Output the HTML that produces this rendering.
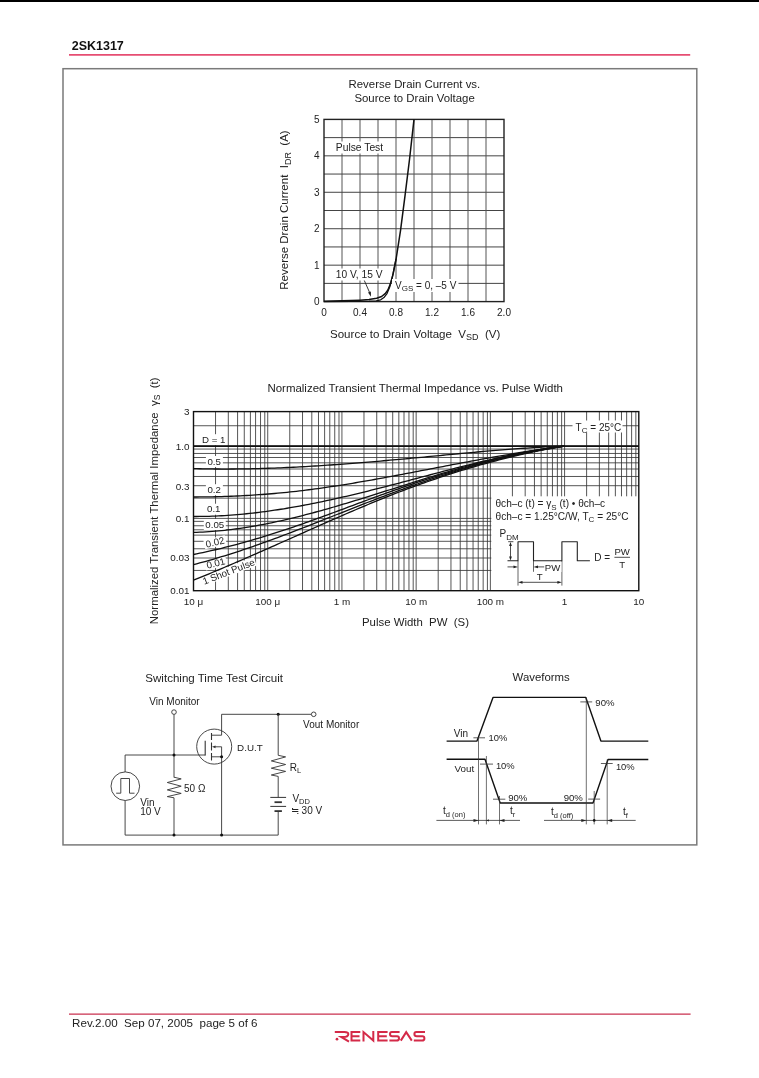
<!DOCTYPE html>
<html><head><meta charset="utf-8"><style>
html,body{margin:0;padding:0;background:#fff;width:759px;height:1078px;overflow:hidden}
svg{display:block;font-family:"Liberation Sans", sans-serif;filter:blur(0.3px)}
</style></head><body>
<svg width="759" height="1078" viewBox="0 0 759 1078">
<rect x="0.00" y="0.00" width="759.00" height="2.00" fill="#000" stroke="none" stroke-width="0"/>
<text x="71.70" y="50.20" font-size="12.5" text-anchor="start" fill="#111" font-weight="bold">2SK1317</text>
<line x1="69.00" y1="54.85" x2="690.20" y2="54.85" stroke="#e64d72" stroke-width="1.8" />
<rect x="63" y="68.7" width="633.8" height="776.2" fill="none" stroke="#7a7a7a" stroke-width="1.5"/>
<text x="414.40" y="87.90" font-size="11.4" text-anchor="middle" fill="#222" >Reverse Drain Current vs.</text>
<text x="414.60" y="102.00" font-size="11.4" text-anchor="middle" fill="#222" >Source to Drain Voltage</text>
<line x1="342.00" y1="119.40" x2="342.00" y2="301.60" stroke="#555" stroke-width="1" />
<line x1="324.00" y1="137.62" x2="504.00" y2="137.62" stroke="#444" stroke-width="1" />
<line x1="360.00" y1="119.40" x2="360.00" y2="301.60" stroke="#555" stroke-width="1" />
<line x1="324.00" y1="155.84" x2="504.00" y2="155.84" stroke="#444" stroke-width="1" />
<line x1="378.00" y1="119.40" x2="378.00" y2="301.60" stroke="#555" stroke-width="1" />
<line x1="324.00" y1="174.06" x2="504.00" y2="174.06" stroke="#444" stroke-width="1" />
<line x1="396.00" y1="119.40" x2="396.00" y2="301.60" stroke="#555" stroke-width="1" />
<line x1="324.00" y1="192.28" x2="504.00" y2="192.28" stroke="#444" stroke-width="1" />
<line x1="414.00" y1="119.40" x2="414.00" y2="301.60" stroke="#555" stroke-width="1" />
<line x1="324.00" y1="210.50" x2="504.00" y2="210.50" stroke="#444" stroke-width="1" />
<line x1="432.00" y1="119.40" x2="432.00" y2="301.60" stroke="#555" stroke-width="1" />
<line x1="324.00" y1="228.72" x2="504.00" y2="228.72" stroke="#444" stroke-width="1" />
<line x1="450.00" y1="119.40" x2="450.00" y2="301.60" stroke="#555" stroke-width="1" />
<line x1="324.00" y1="246.94" x2="504.00" y2="246.94" stroke="#444" stroke-width="1" />
<line x1="468.00" y1="119.40" x2="468.00" y2="301.60" stroke="#555" stroke-width="1" />
<line x1="324.00" y1="265.16" x2="504.00" y2="265.16" stroke="#444" stroke-width="1" />
<line x1="486.00" y1="119.40" x2="486.00" y2="301.60" stroke="#555" stroke-width="1" />
<line x1="324.00" y1="283.38" x2="504.00" y2="283.38" stroke="#444" stroke-width="1" />
<rect x="324.0" y="119.4" width="180.0" height="182.20000000000002" fill="none" stroke="#222" stroke-width="1.4"/>
<text x="319.60" y="305.20" font-size="10.0" text-anchor="end" fill="#222" >0</text>
<text x="319.60" y="268.76" font-size="10.0" text-anchor="end" fill="#222" >1</text>
<text x="319.60" y="232.32" font-size="10.0" text-anchor="end" fill="#222" >2</text>
<text x="319.60" y="195.88" font-size="10.0" text-anchor="end" fill="#222" >3</text>
<text x="319.60" y="159.44" font-size="10.0" text-anchor="end" fill="#222" >4</text>
<text x="319.60" y="123.00" font-size="10.0" text-anchor="end" fill="#222" >5</text>
<text x="324.00" y="316.00" font-size="10.0" text-anchor="middle" fill="#222" >0</text>
<text x="360.00" y="316.00" font-size="10.0" text-anchor="middle" fill="#222" >0.4</text>
<text x="396.00" y="316.00" font-size="10.0" text-anchor="middle" fill="#222" >0.8</text>
<text x="432.00" y="316.00" font-size="10.0" text-anchor="middle" fill="#222" >1.2</text>
<text x="468.00" y="316.00" font-size="10.0" text-anchor="middle" fill="#222" >1.6</text>
<text x="504.00" y="316.00" font-size="10.0" text-anchor="middle" fill="#222" >2.0</text>
<text x="330" y="337.6" font-size="11.55" fill="#222">Source to Drain Voltage&#160; V<tspan font-size="9" dy="2.6">SD</tspan><tspan dy="-2.6">&#160; (V)</tspan></text>
<text transform="translate(288,289.7) rotate(-90)" x="0" y="0" font-size="11.5" fill="#222">Reverse Drain Current&#160; I<tspan font-size="9" dy="2.6">DR</tspan><tspan dy="-2.6">&#160; (A)</tspan></text>
<polyline points="324.00,301.24 342.00,300.87 360.00,300.14 369.00,299.60 376.65,298.32 381.60,296.50 385.20,293.58 387.90,289.94 390.60,283.38 393.30,273.18 396.00,259.69 400.50,230.54 405.00,195.92 409.50,159.48 414.00,119.40" fill="none" stroke="#111" stroke-width="1.5" stroke-linejoin="round" />
<polyline points="324.00,301.60 351.00,301.42 369.00,301.24 376.20,300.87 380.70,299.78 384.30,297.23 387.00,293.58 389.70,287.02 392.40,276.82 395.10,263.34 396.00,258.97" fill="none" stroke="#111" stroke-width="1.3" stroke-linejoin="round" />
<rect x="333.50" y="141.50" width="51.00" height="12.00" fill="#fff" stroke="none" stroke-width="0"/>
<text x="335.80" y="150.80" font-size="10.3" text-anchor="start" fill="#222" >Pulse Test</text>
<rect x="333.50" y="268.50" width="51.00" height="12.00" fill="#fff" stroke="none" stroke-width="0"/>
<text x="335.80" y="278.10" font-size="10.2" text-anchor="start" fill="#222" >10 V, 15 V</text>
<line x1="364.30" y1="280.50" x2="369.60" y2="292.50" stroke="#222" stroke-width="0.9" />
<polygon points="371.00,296.80 368.03,292.51 370.88,291.58" fill="#222"/>
<rect x="392.00" y="279.00" width="66.50" height="13.00" fill="#fff" stroke="none" stroke-width="0"/>
<text x="395" y="288.8" font-size="10" fill="#222">V<tspan font-size="8" dy="2.5">GS</tspan><tspan dy="-2.5"> = 0, –5 V</tspan></text>
<text x="415.20" y="392.20" font-size="11.48" text-anchor="middle" fill="#222" >Normalized Transient Thermal Impedance vs. Pulse Width</text>
<line x1="215.54" y1="411.60" x2="215.54" y2="590.70" stroke="#383838" stroke-width="0.85" />
<line x1="228.31" y1="411.60" x2="228.31" y2="590.70" stroke="#383838" stroke-width="0.85" />
<line x1="237.58" y1="411.60" x2="237.58" y2="590.70" stroke="#383838" stroke-width="0.85" />
<line x1="244.28" y1="411.60" x2="244.28" y2="590.70" stroke="#383838" stroke-width="0.85" />
<line x1="250.40" y1="411.60" x2="250.40" y2="590.70" stroke="#383838" stroke-width="0.85" />
<line x1="255.57" y1="411.60" x2="255.57" y2="590.70" stroke="#383838" stroke-width="0.85" />
<line x1="260.52" y1="411.60" x2="260.52" y2="590.70" stroke="#383838" stroke-width="0.85" />
<line x1="264.77" y1="411.60" x2="264.77" y2="590.70" stroke="#383838" stroke-width="0.85" />
<line x1="289.76" y1="411.60" x2="289.76" y2="590.70" stroke="#383838" stroke-width="0.85" />
<line x1="302.53" y1="411.60" x2="302.53" y2="590.70" stroke="#383838" stroke-width="0.85" />
<line x1="311.80" y1="411.60" x2="311.80" y2="590.70" stroke="#383838" stroke-width="0.85" />
<line x1="318.49" y1="411.60" x2="318.49" y2="590.70" stroke="#383838" stroke-width="0.85" />
<line x1="324.62" y1="411.60" x2="324.62" y2="590.70" stroke="#383838" stroke-width="0.85" />
<line x1="329.79" y1="411.60" x2="329.79" y2="590.70" stroke="#383838" stroke-width="0.85" />
<line x1="334.74" y1="411.60" x2="334.74" y2="590.70" stroke="#383838" stroke-width="0.85" />
<line x1="338.99" y1="411.60" x2="338.99" y2="590.70" stroke="#383838" stroke-width="0.85" />
<line x1="267.72" y1="411.60" x2="267.72" y2="590.70" stroke="#383838" stroke-width="0.85" />
<line x1="363.97" y1="411.60" x2="363.97" y2="590.70" stroke="#383838" stroke-width="0.85" />
<line x1="376.74" y1="411.60" x2="376.74" y2="590.70" stroke="#383838" stroke-width="0.85" />
<line x1="386.02" y1="411.60" x2="386.02" y2="590.70" stroke="#383838" stroke-width="0.85" />
<line x1="392.71" y1="411.60" x2="392.71" y2="590.70" stroke="#383838" stroke-width="0.85" />
<line x1="398.84" y1="411.60" x2="398.84" y2="590.70" stroke="#383838" stroke-width="0.85" />
<line x1="404.00" y1="411.60" x2="404.00" y2="590.70" stroke="#383838" stroke-width="0.85" />
<line x1="408.96" y1="411.60" x2="408.96" y2="590.70" stroke="#383838" stroke-width="0.85" />
<line x1="413.20" y1="411.60" x2="413.20" y2="590.70" stroke="#383838" stroke-width="0.85" />
<line x1="341.93" y1="411.60" x2="341.93" y2="590.70" stroke="#383838" stroke-width="0.85" />
<line x1="438.19" y1="411.60" x2="438.19" y2="590.70" stroke="#383838" stroke-width="0.85" />
<line x1="450.96" y1="411.60" x2="450.96" y2="590.70" stroke="#383838" stroke-width="0.85" />
<line x1="460.23" y1="411.60" x2="460.23" y2="590.70" stroke="#383838" stroke-width="0.85" />
<line x1="466.93" y1="411.60" x2="466.93" y2="590.70" stroke="#383838" stroke-width="0.85" />
<line x1="473.05" y1="411.60" x2="473.05" y2="590.70" stroke="#383838" stroke-width="0.85" />
<line x1="478.22" y1="411.60" x2="478.22" y2="590.70" stroke="#383838" stroke-width="0.85" />
<line x1="483.17" y1="411.60" x2="483.17" y2="590.70" stroke="#383838" stroke-width="0.85" />
<line x1="487.42" y1="411.60" x2="487.42" y2="590.70" stroke="#383838" stroke-width="0.85" />
<line x1="416.15" y1="411.60" x2="416.15" y2="590.70" stroke="#383838" stroke-width="0.85" />
<line x1="512.41" y1="411.60" x2="512.41" y2="590.70" stroke="#383838" stroke-width="0.85" />
<line x1="525.18" y1="411.60" x2="525.18" y2="590.70" stroke="#383838" stroke-width="0.85" />
<line x1="534.45" y1="411.60" x2="534.45" y2="590.70" stroke="#383838" stroke-width="0.85" />
<line x1="541.14" y1="411.60" x2="541.14" y2="590.70" stroke="#383838" stroke-width="0.85" />
<line x1="547.27" y1="411.60" x2="547.27" y2="590.70" stroke="#383838" stroke-width="0.85" />
<line x1="552.44" y1="411.60" x2="552.44" y2="590.70" stroke="#383838" stroke-width="0.85" />
<line x1="557.39" y1="411.60" x2="557.39" y2="590.70" stroke="#383838" stroke-width="0.85" />
<line x1="561.64" y1="411.60" x2="561.64" y2="590.70" stroke="#383838" stroke-width="0.85" />
<line x1="490.37" y1="411.60" x2="490.37" y2="590.70" stroke="#383838" stroke-width="0.85" />
<line x1="586.62" y1="411.60" x2="586.62" y2="590.70" stroke="#383838" stroke-width="0.85" />
<line x1="599.39" y1="411.60" x2="599.39" y2="590.70" stroke="#383838" stroke-width="0.85" />
<line x1="608.67" y1="411.60" x2="608.67" y2="590.70" stroke="#383838" stroke-width="0.85" />
<line x1="615.36" y1="411.60" x2="615.36" y2="590.70" stroke="#383838" stroke-width="0.85" />
<line x1="621.49" y1="411.60" x2="621.49" y2="590.70" stroke="#383838" stroke-width="0.85" />
<line x1="626.65" y1="411.60" x2="626.65" y2="590.70" stroke="#383838" stroke-width="0.85" />
<line x1="631.61" y1="411.60" x2="631.61" y2="590.70" stroke="#383838" stroke-width="0.85" />
<line x1="635.85" y1="411.60" x2="635.85" y2="590.70" stroke="#383838" stroke-width="0.85" />
<line x1="564.58" y1="411.60" x2="564.58" y2="590.70" stroke="#383838" stroke-width="0.85" />
<line x1="193.50" y1="570.44" x2="638.80" y2="570.44" stroke="#383838" stroke-width="0.85" />
<line x1="193.50" y1="558.00" x2="638.80" y2="558.00" stroke="#383838" stroke-width="0.85" />
<line x1="193.50" y1="548.77" x2="638.80" y2="548.77" stroke="#383838" stroke-width="0.85" />
<line x1="193.50" y1="541.31" x2="638.80" y2="541.31" stroke="#383838" stroke-width="0.85" />
<line x1="193.50" y1="535.14" x2="638.80" y2="535.14" stroke="#383838" stroke-width="0.85" />
<line x1="193.50" y1="529.80" x2="638.80" y2="529.80" stroke="#383838" stroke-width="0.85" />
<line x1="193.50" y1="525.76" x2="638.80" y2="525.76" stroke="#383838" stroke-width="0.85" />
<line x1="193.50" y1="521.36" x2="638.80" y2="521.36" stroke="#383838" stroke-width="0.85" />
<line x1="193.50" y1="518.40" x2="638.80" y2="518.40" stroke="#383838" stroke-width="0.85" />
<line x1="193.50" y1="498.14" x2="638.80" y2="498.14" stroke="#383838" stroke-width="0.85" />
<line x1="193.50" y1="485.70" x2="638.80" y2="485.70" stroke="#383838" stroke-width="0.85" />
<line x1="193.50" y1="476.47" x2="638.80" y2="476.47" stroke="#383838" stroke-width="0.85" />
<line x1="193.50" y1="469.01" x2="638.80" y2="469.01" stroke="#383838" stroke-width="0.85" />
<line x1="193.50" y1="462.84" x2="638.80" y2="462.84" stroke="#383838" stroke-width="0.85" />
<line x1="193.50" y1="457.50" x2="638.80" y2="457.50" stroke="#383838" stroke-width="0.85" />
<line x1="193.50" y1="453.46" x2="638.80" y2="453.46" stroke="#383838" stroke-width="0.85" />
<line x1="193.50" y1="449.06" x2="638.80" y2="449.06" stroke="#383838" stroke-width="0.85" />
<line x1="193.50" y1="446.10" x2="638.80" y2="446.10" stroke="#383838" stroke-width="0.85" />
<line x1="193.50" y1="425.74" x2="638.80" y2="425.74" stroke="#383838" stroke-width="0.85" />
<rect x="491.30" y="496.30" width="147.50" height="94.40" fill="#fff" stroke="none" stroke-width="0"/>
<rect x="193.5" y="411.60" width="445.30" height="179.10" fill="none" stroke="#111" stroke-width="1.4"/>
<text x="189.40" y="414.90" font-size="9.9" text-anchor="end" fill="#222" >3</text>
<text x="189.40" y="449.90" font-size="9.9" text-anchor="end" fill="#222" >1.0</text>
<text x="189.40" y="490.10" font-size="9.9" text-anchor="end" fill="#222" >0.3</text>
<text x="189.40" y="521.50" font-size="9.9" text-anchor="end" fill="#222" >0.1</text>
<text x="189.40" y="560.50" font-size="9.9" text-anchor="end" fill="#222" >0.03</text>
<text x="189.40" y="593.70" font-size="9.9" text-anchor="end" fill="#222" >0.01</text>
<text x="193.50" y="604.70" font-size="9.9" text-anchor="middle" fill="#222" >10 μ</text>
<text x="267.72" y="604.70" font-size="9.9" text-anchor="middle" fill="#222" >100 μ</text>
<text x="341.93" y="604.70" font-size="9.9" text-anchor="middle" fill="#222" >1 m</text>
<text x="416.15" y="604.70" font-size="9.9" text-anchor="middle" fill="#222" >10 m</text>
<text x="490.37" y="604.70" font-size="9.9" text-anchor="middle" fill="#222" >100 m</text>
<text x="564.58" y="604.70" font-size="9.9" text-anchor="middle" fill="#222" >1</text>
<text x="638.80" y="604.70" font-size="9.9" text-anchor="middle" fill="#222" >10</text>
<text x="362" y="625.6" font-size="11.4" fill="#222">Pulse Width&#160; PW&#160; (S)</text>
<text transform="translate(158,624.2) rotate(-90)" x="0" y="0" font-size="11.4" fill="#222">Normalized Transient Thermal Impedance&#160; γ<tspan font-size="8.5" dy="2.2">S</tspan><tspan dy="-2.2">&#160; (t)</tspan></text>
<rect x="200.50" y="434.20" width="26.50" height="11.00" fill="#fff" stroke="none" stroke-width="0"/>
<rect x="205.90" y="456.00" width="17.00" height="11.00" fill="#fff" stroke="none" stroke-width="0"/>
<rect x="205.90" y="484.20" width="17.00" height="11.00" fill="#fff" stroke="none" stroke-width="0"/>
<rect x="205.50" y="503.70" width="17.00" height="11.00" fill="#fff" stroke="none" stroke-width="0"/>
<rect x="203.80" y="519.00" width="22.00" height="11.00" fill="#fff" stroke="none" stroke-width="0"/>
<g transform="translate(215,542.2) rotate(-13)"><rect x="-11.0" y="-4.6" width="22" height="9.2" fill="#fff"/></g>
<g transform="translate(215.7,563.2) rotate(-14.5)"><rect x="-11.0" y="-4.6" width="22" height="9.2" fill="#fff"/></g>
<g transform="translate(228.6,571.6) rotate(-21.3)"><rect x="-28.5" y="-4.6" width="57" height="9.2" fill="#fff"/></g>
<line x1="193.50" y1="446.10" x2="638.80" y2="446.10" stroke="#111" stroke-width="1.6" />
<polyline points="193.50,468.59 196.62,468.68 199.74,468.75 202.85,468.82 205.97,468.88 209.09,468.92 212.21,468.96 215.32,468.99 218.44,469.01 221.56,469.03 224.68,469.03 227.79,469.03 230.91,469.02 234.03,469.00 237.15,468.97 240.26,468.93 243.38,468.89 246.50,468.84 249.62,468.78 252.74,468.71 255.85,468.64 258.97,468.56 262.09,468.47 265.21,468.37 268.32,468.27 271.44,468.16 274.56,468.05 277.68,467.93 280.79,467.80 283.91,467.66 287.03,467.52 290.15,467.38 293.26,467.23 296.38,467.07 299.50,466.90 302.62,466.73 305.74,466.56 308.85,466.38 311.97,466.19 315.09,466.00 318.21,465.81 321.32,465.61 324.44,465.40 327.56,465.19 330.68,464.98 333.79,464.76 336.91,464.54 340.03,464.31 343.15,464.08 346.26,463.84 349.38,463.60 352.50,463.36 355.62,463.12 358.74,462.87 361.85,462.61 364.97,462.36 368.09,462.10 371.21,461.84 374.32,461.57 377.44,461.30 380.56,461.03 383.68,460.76 386.79,460.48 389.91,460.20 393.03,459.92 396.15,459.64 399.26,459.36 402.38,459.07 405.50,458.78 408.62,458.49 411.74,458.20 414.85,457.91 417.97,457.62 421.09,457.32 424.21,457.03 427.32,456.73 430.44,456.43 433.56,456.13 436.68,455.83 439.79,455.54 442.91,455.24 446.03,454.94 449.15,454.64 452.26,454.34 455.38,454.05 458.50,453.75 461.62,453.46 464.74,453.16 467.85,452.87 470.97,452.59 474.09,452.30 477.21,452.02 480.32,451.74 483.44,451.46 486.56,451.19 489.68,450.92 492.79,450.65 495.91,450.39 499.03,450.13 502.15,449.87 505.26,449.62 508.38,449.38 511.50,449.14 514.62,448.91 517.74,448.68 520.85,448.46 523.97,448.24 527.09,448.03 530.21,447.83 533.32,447.63 536.44,447.44 539.56,447.26 542.68,447.09 545.79,446.92 548.91,446.76 552.03,446.61 555.15,446.47 558.26,446.34 561.38,446.21 564.50,446.10" fill="none" stroke="#111" stroke-width="1.3" stroke-linejoin="round" />
<polyline points="193.50,497.00 196.62,496.99 199.74,496.97 202.85,496.94 205.97,496.90 209.09,496.86 212.21,496.80 215.32,496.73 218.44,496.66 221.56,496.57 224.68,496.47 227.79,496.37 230.91,496.25 234.03,496.12 237.15,495.98 240.26,495.84 243.38,495.68 246.50,495.51 249.62,495.33 252.74,495.14 255.85,494.93 258.97,494.72 262.09,494.50 265.21,494.26 268.32,494.02 271.44,493.76 274.56,493.49 277.68,493.21 280.79,492.92 283.91,492.61 287.03,492.30 290.15,491.97 293.26,491.63 296.38,491.28 299.50,490.92 302.62,490.54 305.74,490.16 308.85,489.76 311.97,489.36 315.09,488.94 318.21,488.52 321.32,488.08 324.44,487.64 327.56,487.19 330.68,486.73 333.79,486.26 336.91,485.78 340.03,485.29 343.15,484.80 346.26,484.30 349.38,483.79 352.50,483.27 355.62,482.75 358.74,482.22 361.85,481.69 364.97,481.15 368.09,480.60 371.21,480.05 374.32,479.50 377.44,478.94 380.56,478.37 383.68,477.80 386.79,477.23 389.91,476.65 393.03,476.07 396.15,475.49 399.26,474.90 402.38,474.31 405.50,473.72 408.62,473.12 411.74,472.53 414.85,471.93 417.97,471.33 421.09,470.73 424.21,470.13 427.32,469.53 430.44,468.92 433.56,468.32 436.68,467.72 439.79,467.12 442.91,466.52 446.03,465.92 449.15,465.32 452.26,464.72 455.38,464.13 458.50,463.53 461.62,462.94 464.74,462.36 467.85,461.77 470.97,461.19 474.09,460.61 477.21,460.03 480.32,459.46 483.44,458.89 486.56,458.33 489.68,457.77 492.79,457.22 495.91,456.67 499.03,456.12 502.15,455.58 505.26,455.05 508.38,454.52 511.50,454.00 514.62,453.49 517.74,452.98 520.85,452.47 523.97,451.97 527.09,451.48 530.21,450.99 533.32,450.52 536.44,450.04 539.56,449.58 542.68,449.12 545.79,448.66 548.91,448.22 552.03,447.78 555.15,447.35 558.26,446.93 561.38,446.51 564.50,446.10" fill="none" stroke="#111" stroke-width="1.3" stroke-linejoin="round" />
<polyline points="193.50,516.49 196.62,516.49 199.74,516.47 202.85,516.43 205.97,516.37 209.09,516.29 212.21,516.19 215.32,516.06 218.44,515.92 221.56,515.75 224.68,515.57 227.79,515.37 230.91,515.15 234.03,514.91 237.15,514.65 240.26,514.37 243.38,514.08 246.50,513.77 249.62,513.44 252.74,513.09 255.85,512.73 258.97,512.35 262.09,511.96 265.21,511.55 268.32,511.12 271.44,510.68 274.56,510.22 277.68,509.75 280.79,509.26 283.91,508.77 287.03,508.25 290.15,507.73 293.26,507.19 296.38,506.63 299.50,506.07 302.62,505.49 305.74,504.90 308.85,504.30 311.97,503.68 315.09,503.06 318.21,502.42 321.32,501.78 324.44,501.12 327.56,500.46 330.68,499.78 333.79,499.09 336.91,498.40 340.03,497.69 343.15,496.98 346.26,496.26 349.38,495.53 352.50,494.80 355.62,494.05 358.74,493.30 361.85,492.54 364.97,491.78 368.09,491.01 371.21,490.23 374.32,489.45 377.44,488.66 380.56,487.87 383.68,487.07 386.79,486.27 389.91,485.46 393.03,484.65 396.15,483.83 399.26,483.01 402.38,482.19 405.50,481.37 408.62,480.55 411.74,479.72 414.85,478.89 417.97,478.06 421.09,477.23 424.21,476.41 427.32,475.58 430.44,474.75 433.56,473.93 436.68,473.10 439.79,472.28 442.91,471.46 446.03,470.65 449.15,469.83 452.26,469.03 455.38,468.22 458.50,467.42 461.62,466.63 464.74,465.84 467.85,465.06 470.97,464.28 474.09,463.52 477.21,462.75 480.32,462.00 483.44,461.25 486.56,460.52 489.68,459.79 492.79,459.07 495.91,458.36 499.03,457.66 502.15,456.97 505.26,456.30 508.38,455.63 511.50,454.98 514.62,454.34 517.74,453.71 520.85,453.09 523.97,452.49 527.09,451.90 530.21,451.33 533.32,450.77 536.44,450.23 539.56,449.70 542.68,449.19 545.79,448.69 548.91,448.22 552.03,447.76 555.15,447.31 558.26,446.89 561.38,446.48 564.50,446.10" fill="none" stroke="#111" stroke-width="1.3" stroke-linejoin="round" />
<polyline points="193.50,532.39 196.62,532.30 199.74,532.18 202.85,532.04 205.97,531.87 209.09,531.67 212.21,531.44 215.32,531.19 218.44,530.91 221.56,530.61 224.68,530.29 227.79,529.94 230.91,529.57 234.03,529.17 237.15,528.75 240.26,528.31 243.38,527.85 246.50,527.37 249.62,526.87 252.74,526.34 255.85,525.80 258.97,525.23 262.09,524.65 265.21,524.05 268.32,523.43 271.44,522.79 274.56,522.14 277.68,521.47 280.79,520.78 283.91,520.08 287.03,519.36 290.15,518.62 293.26,517.87 296.38,517.11 299.50,516.33 302.62,515.54 305.74,514.74 308.85,513.92 311.97,513.09 315.09,512.25 318.21,511.40 321.32,510.54 324.44,509.67 327.56,508.79 330.68,507.90 333.79,507.00 336.91,506.09 340.03,505.17 343.15,504.24 346.26,503.31 349.38,502.37 352.50,501.43 355.62,500.48 358.74,499.52 361.85,498.56 364.97,497.59 368.09,496.62 371.21,495.65 374.32,494.67 377.44,493.69 380.56,492.71 383.68,491.72 386.79,490.74 389.91,489.75 393.03,488.76 396.15,487.77 399.26,486.78 402.38,485.79 405.50,484.81 408.62,483.82 411.74,482.84 414.85,481.86 417.97,480.88 421.09,479.90 424.21,478.93 427.32,477.97 430.44,477.00 433.56,476.04 436.68,475.09 439.79,474.15 442.91,473.21 446.03,472.27 449.15,471.35 452.26,470.43 455.38,469.52 458.50,468.61 461.62,467.72 464.74,466.84 467.85,465.96 470.97,465.10 474.09,464.25 477.21,463.40 480.32,462.57 483.44,461.75 486.56,460.95 489.68,460.15 492.79,459.37 495.91,458.61 499.03,457.86 502.15,457.12 505.26,456.40 508.38,455.69 511.50,455.00 514.62,454.32 517.74,453.66 520.85,453.02 523.97,452.40 527.09,451.80 530.21,451.21 533.32,450.64 536.44,450.09 539.56,449.56 542.68,449.06 545.79,448.57 548.91,448.10 552.03,447.66 555.15,447.24 558.26,446.83 561.38,446.46 564.50,446.10" fill="none" stroke="#111" stroke-width="1.3" stroke-linejoin="round" />
<polyline points="193.50,554.50 196.62,553.87 199.74,553.22 202.85,552.56 205.97,551.88 209.09,551.19 212.21,550.48 215.32,549.75 218.44,549.01 221.56,548.26 224.68,547.49 227.79,546.70 230.91,545.90 234.03,545.09 237.15,544.26 240.26,543.41 243.38,542.56 246.50,541.68 249.62,540.80 252.74,539.90 255.85,538.99 258.97,538.06 262.09,537.12 265.21,536.17 268.32,535.20 271.44,534.23 274.56,533.24 277.68,532.23 280.79,531.22 283.91,530.19 287.03,529.16 290.15,528.11 293.26,527.05 296.38,525.97 299.50,524.89 302.62,523.80 305.74,522.70 308.85,521.59 311.97,520.48 315.09,519.35 318.21,518.22 321.32,517.09 324.44,515.95 327.56,514.80 330.68,513.65 333.79,512.50 336.91,511.34 340.03,510.18 343.15,509.02 346.26,507.86 349.38,506.70 352.50,505.54 355.62,504.38 358.74,503.22 361.85,502.06 364.97,500.91 368.09,499.75 371.21,498.61 374.32,497.46 377.44,496.32 380.56,495.19 383.68,494.06 386.79,492.94 389.91,491.83 393.03,490.72 396.15,489.63 399.26,488.54 402.38,487.46 405.50,486.38 408.62,485.32 411.74,484.27 414.85,483.22 417.97,482.18 421.09,481.16 424.21,480.14 427.32,479.13 430.44,478.13 433.56,477.14 436.68,476.16 439.79,475.19 442.91,474.23 446.03,473.28 449.15,472.34 452.26,471.41 455.38,470.50 458.50,469.59 461.62,468.69 464.74,467.81 467.85,466.93 470.97,466.07 474.09,465.22 477.21,464.38 480.32,463.55 483.44,462.74 486.56,461.93 489.68,461.14 492.79,460.36 495.91,459.59 499.03,458.84 502.15,458.09 505.26,457.36 508.38,456.65 511.50,455.94 514.62,455.25 517.74,454.58 520.85,453.91 523.97,453.26 527.09,452.62 530.21,452.00 533.32,451.39 536.44,450.80 539.56,450.22 542.68,449.65 545.79,449.10 548.91,448.56 552.03,448.04 555.15,447.53 558.26,447.04 561.38,446.56 564.50,446.10" fill="none" stroke="#111" stroke-width="1.3" stroke-linejoin="round" />
<polyline points="193.50,564.61 196.62,563.80 199.74,562.98 202.85,562.14 205.97,561.28 209.09,560.41 212.21,559.51 215.32,558.60 218.44,557.68 221.56,556.73 224.68,555.78 227.79,554.80 230.91,553.81 234.03,552.81 237.15,551.80 240.26,550.77 243.38,549.72 246.50,548.67 249.62,547.60 252.74,546.52 255.85,545.43 258.97,544.33 262.09,543.22 265.21,542.09 268.32,540.96 271.44,539.82 274.56,538.67 277.68,537.52 280.79,536.35 283.91,535.18 287.03,534.00 290.15,532.81 293.26,531.62 296.38,530.42 299.50,529.21 302.62,528.01 305.74,526.79 308.85,525.58 311.97,524.35 315.09,523.13 318.21,521.90 321.32,520.67 324.44,519.44 327.56,518.21 330.68,516.98 333.79,515.74 336.91,514.51 340.03,513.28 343.15,512.04 346.26,510.81 349.38,509.58 352.50,508.35 355.62,507.13 358.74,505.90 361.85,504.68 364.97,503.47 368.09,502.26 371.21,501.05 374.32,499.85 377.44,498.65 380.56,497.46 383.68,496.27 386.79,495.10 389.91,493.92 393.03,492.76 396.15,491.61 399.26,490.46 402.38,489.32 405.50,488.19 408.62,487.06 411.74,485.95 414.85,484.84 417.97,483.75 421.09,482.66 424.21,481.58 427.32,480.52 430.44,479.46 433.56,478.41 436.68,477.38 439.79,476.35 442.91,475.33 446.03,474.33 449.15,473.33 452.26,472.35 455.38,471.38 458.50,470.42 461.62,469.47 464.74,468.54 467.85,467.61 470.97,466.70 474.09,465.80 477.21,464.92 480.32,464.04 483.44,463.18 486.56,462.34 489.68,461.51 492.79,460.69 495.91,459.88 499.03,459.09 502.15,458.32 505.26,457.55 508.38,456.81 511.50,456.08 514.62,455.36 517.74,454.66 520.85,453.97 523.97,453.30 527.09,452.65 530.21,452.01 533.32,451.39 536.44,450.78 539.56,450.19 542.68,449.62 545.79,449.07 548.91,448.53 552.03,448.01 555.15,447.51 558.26,447.02 561.38,446.56 564.50,446.11" fill="none" stroke="#111" stroke-width="1.3" stroke-linejoin="round" />
<polyline points="193.50,580.19 196.62,578.93 199.74,577.66 202.85,576.38 205.97,575.09 209.09,573.80 212.21,572.51 215.32,571.20 218.44,569.89 221.56,568.58 224.68,567.26 227.79,565.93 230.91,564.60 234.03,563.26 237.15,561.92 240.26,560.58 243.38,559.23 246.50,557.88 249.62,556.52 252.74,555.16 255.85,553.79 258.97,552.42 262.09,551.05 265.21,549.68 268.32,548.30 271.44,546.92 274.56,545.54 277.68,544.16 280.79,542.77 283.91,541.39 287.03,540.00 290.15,538.61 293.26,537.22 296.38,535.83 299.50,534.43 302.62,533.04 305.74,531.65 308.85,530.26 311.97,528.87 315.09,527.48 318.21,526.09 321.32,524.71 324.44,523.33 327.56,521.95 330.68,520.58 333.79,519.21 336.91,517.84 340.03,516.48 343.15,515.12 346.26,513.77 349.38,512.43 352.50,511.09 355.62,509.75 358.74,508.43 361.85,507.11 364.97,505.80 368.09,504.50 371.21,503.21 374.32,501.92 377.44,500.65 380.56,499.38 383.68,498.13 386.79,496.88 389.91,495.65 393.03,494.42 396.15,493.21 399.26,492.01 402.38,490.83 405.50,489.65 408.62,488.48 411.74,487.33 414.85,486.19 417.97,485.06 421.09,483.94 424.21,482.83 427.32,481.74 430.44,480.65 433.56,479.58 436.68,478.52 439.79,477.48 442.91,476.44 446.03,475.42 449.15,474.41 452.26,473.41 455.38,472.43 458.50,471.45 461.62,470.49 464.74,469.54 467.85,468.61 470.97,467.68 474.09,466.77 477.21,465.88 480.32,464.99 483.44,464.12 486.56,463.26 489.68,462.41 492.79,461.58 495.91,460.76 499.03,459.95 502.15,459.16 505.26,458.38 508.38,457.61 511.50,456.85 514.62,456.11 517.74,455.38 520.85,454.67 523.97,453.97 527.09,453.28 530.21,452.61 533.32,451.94 536.44,451.30 539.56,450.66 542.68,450.05 545.79,449.44 548.91,448.85 552.03,448.27 555.15,447.71 558.26,447.16 561.38,446.62 564.50,446.10" fill="none" stroke="#111" stroke-width="1.3" stroke-linejoin="round" />
<text x="202.00" y="442.70" font-size="9.7" text-anchor="start" fill="#222" >D = 1</text>
<text x="207.40" y="464.50" font-size="9.7" text-anchor="start" fill="#222" >0.5</text>
<text x="207.40" y="492.70" font-size="9.7" text-anchor="start" fill="#222" >0.2</text>
<text x="207.00" y="512.20" font-size="9.7" text-anchor="start" fill="#222" >0.1</text>
<text x="205.30" y="527.50" font-size="9.7" text-anchor="start" fill="#222" >0.05</text>
<g transform="translate(215,542.2) rotate(-13)"><text x="0" y="3.4" font-size="9.7" text-anchor="middle" fill="#222">0.02</text></g>
<g transform="translate(215.7,563.2) rotate(-14.5)"><text x="0" y="3.4" font-size="9.7" text-anchor="middle" fill="#222">0.01</text></g>
<g transform="translate(228.6,571.6) rotate(-21.3)"><text x="0" y="3.4" font-size="9.7" text-anchor="middle" fill="#222">1 Shot Pulse</text></g>
<rect x="572.50" y="420.50" width="50.00" height="12.00" fill="#fff" stroke="none" stroke-width="0"/>
<text x="575.6" y="430.8" font-size="10" fill="#222">T<tspan font-size="8" dy="2.5">C</tspan><tspan dy="-2.5"> = 25°C</tspan></text>
<text x="495.5" y="507.3" font-size="10.1" fill="#222">θch–c (t) = γ<tspan font-size="8" dy="2.2">S</tspan><tspan dy="-2.2"> (t) • θch–c</tspan></text>
<text x="495.5" y="519.5" font-size="10.15" fill="#222">θch–c = 1.25°C/W, T<tspan font-size="8" dy="2.2">C</tspan><tspan dy="-2.2"> = 25°C</tspan></text>
<text x="499.6" y="536.9" font-size="10" fill="#222">P<tspan font-size="8" dy="2.6">DM</tspan></text>
<polyline points="507.50,560.80 518.00,560.80 518.00,541.70 533.50,541.70 533.50,560.80 561.90,560.80 561.90,541.70 577.30,541.70 577.30,560.80 589.90,560.80" fill="none" stroke="#222" stroke-width="1.1" stroke-linejoin="round" stroke-linejoin="miter"/>
<line x1="510.50" y1="545.00" x2="510.50" y2="557.50" stroke="#222" stroke-width="0.8" />
<polygon points="510.50,541.90 511.90,545.90 509.10,545.90" fill="#222"/>
<polygon points="510.50,560.60 509.10,556.60 511.90,556.60" fill="#222"/>
<line x1="508.20" y1="541.70" x2="513.40" y2="541.70" stroke="#222" stroke-width="0.8" />
<line x1="518.00" y1="560.80" x2="518.00" y2="585.60" stroke="#222" stroke-width="0.7" />
<line x1="561.90" y1="560.80" x2="561.90" y2="585.60" stroke="#222" stroke-width="0.7" />
<line x1="533.50" y1="560.80" x2="533.50" y2="571.80" stroke="#222" stroke-width="0.7" />
<line x1="507.50" y1="566.90" x2="515.00" y2="566.90" stroke="#222" stroke-width="0.8" />
<polygon points="518.00,566.90 513.50,568.30 513.50,565.50" fill="#222"/>
<line x1="537.00" y1="566.90" x2="544.40" y2="566.90" stroke="#222" stroke-width="0.8" />
<polygon points="533.50,566.90 538.00,565.50 538.00,568.30" fill="#222"/>
<rect x="544.50" y="562.00" width="17.00" height="10.00" fill="#fff" stroke="none" stroke-width="0"/>
<text x="544.80" y="570.50" font-size="9.6" text-anchor="start" fill="#222" >PW</text>
<line x1="521.00" y1="582.30" x2="559.00" y2="582.30" stroke="#222" stroke-width="0.8" />
<polygon points="518.00,582.30 522.50,580.90 522.50,583.70" fill="#222"/>
<polygon points="561.90,582.30 557.40,583.70 557.40,580.90" fill="#222"/>
<text x="539.80" y="580.30" font-size="9.6" text-anchor="middle" fill="#222" >T</text>
<text x="594.20" y="561.20" font-size="10" text-anchor="start" fill="#222" >D =</text>
<text x="622.20" y="554.50" font-size="9.6" text-anchor="middle" fill="#222" >PW</text>
<line x1="614.40" y1="557.30" x2="630.00" y2="557.30" stroke="#222" stroke-width="0.8" />
<text x="622.20" y="567.50" font-size="9.6" text-anchor="middle" fill="#222" >T</text>
<text x="214.20" y="681.80" font-size="11.55" text-anchor="middle" fill="#222" >Switching Time Test Circuit</text>
<text x="149.30" y="705.10" font-size="10" text-anchor="start" fill="#222" >Vin Monitor</text>
<text x="303.10" y="728.00" font-size="10" text-anchor="start" fill="#222" >Vout Monitor</text>
<polyline points="174.00,714.30 174.00,777.50" fill="none" stroke="#333" stroke-width="0.9" stroke-linejoin="round" />
<polyline points="174.00,797.80 174.00,835.10" fill="none" stroke="#333" stroke-width="0.9" stroke-linejoin="round" />
<circle cx="174" cy="712.1" r="2.3" fill="#fff" stroke="#333" stroke-width="0.9"/>
<polyline points="125.10,835.10 125.10,755.00 205.30,755.00" fill="none" stroke="#333" stroke-width="0.9" stroke-linejoin="round" stroke-linejoin="miter"/>
<line x1="125.10" y1="835.10" x2="278.20" y2="835.10" stroke="#333" stroke-width="0.9" />
<polyline points="174.00,777.20 181.20,778.90 167.30,782.50 181.20,786.20 167.30,789.90 181.20,793.40 167.30,796.60 174.00,797.80" fill="none" stroke="#333" stroke-width="0.9" stroke-linejoin="round" />
<text x="184.00" y="791.70" font-size="10" text-anchor="start" fill="#222" >50 Ω</text>
<circle cx="125.3" cy="786.2" r="14.3" fill="#fff" stroke="#333" stroke-width="0.9"/>
<polyline points="116.20,793.20 120.80,793.20 120.80,778.50 129.50,778.50 129.50,793.20 134.50,793.20" fill="none" stroke="#333" stroke-width="0.9" stroke-linejoin="round" stroke-linejoin="miter"/>
<text x="140.20" y="806.10" font-size="10" text-anchor="start" fill="#222" >Vin</text>
<text x="140.20" y="815.40" font-size="10" text-anchor="start" fill="#222" >10 V</text>
<circle cx="214.2" cy="746.6" r="17.5" fill="none" stroke="#333" stroke-width="0.9"/>
<line x1="205.20" y1="740.70" x2="205.20" y2="755.50" stroke="#333" stroke-width="1.1" />
<line x1="211.50" y1="733.00" x2="211.50" y2="740.00" stroke="#333" stroke-width="1.1" />
<line x1="211.50" y1="742.50" x2="211.50" y2="750.50" stroke="#333" stroke-width="1.1" />
<line x1="211.50" y1="753.00" x2="211.50" y2="760.50" stroke="#333" stroke-width="1.1" />
<polyline points="211.50,735.20 221.60,735.20 221.60,714.30 311.40,714.30" fill="none" stroke="#333" stroke-width="0.9" stroke-linejoin="round" stroke-linejoin="miter"/>
<polyline points="211.50,756.80 221.60,756.80 221.60,835.10" fill="none" stroke="#333" stroke-width="0.9" stroke-linejoin="round" stroke-linejoin="miter"/>
<polyline points="214.50,746.80 221.60,746.80 221.60,756.80" fill="none" stroke="#333" stroke-width="0.9" stroke-linejoin="round" stroke-linejoin="miter"/>
<polygon points="212.00,746.80 215.50,745.40 215.50,748.20" fill="#333"/>
<circle cx="174" cy="755" r="1.5" fill="#111"/>
<circle cx="221.6" cy="756.8" r="1.5" fill="#111"/>
<circle cx="278.2" cy="714.3" r="1.5" fill="#111"/>
<circle cx="174" cy="835.1" r="1.5" fill="#111"/>
<circle cx="221.6" cy="835.1" r="1.5" fill="#111"/>
<circle cx="313.7" cy="714.3" r="2.3" fill="#fff" stroke="#333" stroke-width="0.9"/>
<text x="237.10" y="751.20" font-size="9.8" text-anchor="start" fill="#222" >D.U.T</text>
<line x1="278.20" y1="714.30" x2="278.20" y2="755.30" stroke="#333" stroke-width="0.9" />
<polyline points="278.20,755.30 285.60,756.90 271.30,760.90 285.60,764.50 271.30,768.20 285.60,771.40 271.30,775.00 278.20,776.40" fill="none" stroke="#333" stroke-width="0.9" stroke-linejoin="round" />
<line x1="278.20" y1="776.40" x2="278.20" y2="797.40" stroke="#333" stroke-width="0.9" />
<text x="289.8" y="770.8" font-size="10" fill="#222">R<tspan font-size="7.5" dy="2.2">L</tspan></text>
<line x1="270.30" y1="797.40" x2="286.10" y2="797.40" stroke="#333" stroke-width="1.0" />
<line x1="274.50" y1="802.20" x2="281.90" y2="802.20" stroke="#333" stroke-width="1.8" />
<line x1="270.30" y1="806.40" x2="286.10" y2="806.40" stroke="#333" stroke-width="1.0" />
<line x1="274.50" y1="811.10" x2="281.90" y2="811.10" stroke="#333" stroke-width="1.8" />
<line x1="278.20" y1="811.10" x2="278.20" y2="835.10" stroke="#333" stroke-width="0.9" />
<text x="292.4" y="801.7" font-size="10" fill="#222">V<tspan font-size="7.5" dy="2.6">DD</tspan></text>
<text x="290.80" y="813.80" font-size="10" text-anchor="start" fill="#222" >≒ 30 V</text>
<text x="541.20" y="681.40" font-size="11.4" text-anchor="middle" fill="#222" >Waveforms</text>
<polyline points="446.60,741.10 477.00,741.10 493.00,697.40 585.80,697.40 600.90,741.10 648.30,741.10" fill="none" stroke="#111" stroke-width="1.4" stroke-linejoin="round" stroke-linejoin="miter"/>
<polyline points="446.60,759.30 485.00,759.30 500.20,803.00 593.00,803.00 608.00,759.50 648.30,759.50" fill="none" stroke="#111" stroke-width="1.4" stroke-linejoin="round" stroke-linejoin="miter"/>
<line x1="478.50" y1="737.00" x2="478.50" y2="824.40" stroke="#333" stroke-width="0.7" />
<line x1="486.40" y1="756.00" x2="486.40" y2="824.40" stroke="#333" stroke-width="0.7" />
<line x1="499.50" y1="796.00" x2="499.50" y2="824.40" stroke="#333" stroke-width="0.7" />
<line x1="586.30" y1="697.40" x2="586.30" y2="824.40" stroke="#333" stroke-width="0.7" />
<line x1="594.20" y1="791.00" x2="594.20" y2="824.40" stroke="#333" stroke-width="0.7" />
<line x1="607.20" y1="759.50" x2="607.20" y2="824.40" stroke="#333" stroke-width="0.7" />
<line x1="473.40" y1="737.80" x2="485.00" y2="737.80" stroke="#333" stroke-width="0.8" />
<line x1="480.00" y1="764.10" x2="493.00" y2="764.10" stroke="#333" stroke-width="0.8" />
<line x1="493.00" y1="799.20" x2="505.30" y2="799.20" stroke="#333" stroke-width="0.8" />
<line x1="580.30" y1="701.90" x2="592.20" y2="701.90" stroke="#333" stroke-width="0.8" />
<line x1="588.20" y1="799.10" x2="600.10" y2="799.10" stroke="#333" stroke-width="0.8" />
<line x1="600.90" y1="763.50" x2="612.70" y2="763.50" stroke="#333" stroke-width="0.8" />
<text x="453.80" y="736.60" font-size="10" text-anchor="start" fill="#222" >Vin</text>
<text x="454.60" y="772.10" font-size="9.8" text-anchor="start" fill="#222" >Vout</text>
<text x="488.60" y="741.00" font-size="9.4" text-anchor="start" fill="#222" >10%</text>
<text x="495.90" y="768.80" font-size="9.4" text-anchor="start" fill="#222" >10%</text>
<text x="508.20" y="801.00" font-size="9.6" text-anchor="start" fill="#222" >90%</text>
<text x="595.30" y="705.80" font-size="9.6" text-anchor="start" fill="#222" >90%</text>
<text x="563.70" y="800.70" font-size="9.6" text-anchor="start" fill="#222" >90%</text>
<text x="615.90" y="769.80" font-size="9.4" text-anchor="start" fill="#222" >10%</text>
<line x1="436.40" y1="820.40" x2="520.00" y2="820.40" stroke="#333" stroke-width="0.8" />
<polygon points="478.50,820.40 473.50,821.90 473.50,818.90" fill="#222"/>
<polygon points="486.40,820.40 488.90,819.20 488.90,821.60" fill="#222"/>
<polygon points="499.50,820.40 504.50,818.90 504.50,821.90" fill="#222"/>
<line x1="544.00" y1="820.40" x2="635.70" y2="820.40" stroke="#333" stroke-width="0.8" />
<polygon points="586.30,820.40 581.30,821.90 581.30,818.90" fill="#222"/>
<circle cx="594.2" cy="820.4" r="1.3" fill="#111"/>
<polygon points="607.20,820.40 612.20,818.90 612.20,821.90" fill="#222"/>
<text x="443" y="814.1" font-size="10" fill="#222">t<tspan font-size="7.5" dy="2.8">d (on)</tspan></text>
<text x="510" y="814.0" font-size="10" fill="#222">t<tspan font-size="7.5" dy="2.8">r</tspan></text>
<text x="551" y="814.9" font-size="10" fill="#222">t<tspan font-size="7.5" dy="2.8">d (off)</tspan></text>
<text x="623" y="814.9" font-size="10" fill="#222">t<tspan font-size="7.5" dy="2.8">f</tspan></text>
<line x1="69.00" y1="1014.20" x2="690.60" y2="1014.20" stroke="#c9314f" stroke-width="1.3" />
<text x="72.10" y="1026.90" font-size="11.6" text-anchor="start" fill="#222" >Rev.2.00&#160; Sep 07, 2005&#160; page 5 of 6</text>
<g fill="none" stroke="#d42a48" stroke-width="2.0" stroke-linejoin="miter" stroke-linecap="butt">
<circle cx="337.0" cy="1039.2" r="1.35" fill="#d42a48" stroke="none"/>
<path d="M334.8,1032.1 L344.5,1032.1 Q348.6,1032.1 348.3,1034.3 Q348,1036.9499999999998 343.5,1036.9499999999998 L341.2,1036.9499999999998 L349.0,1041.6"/>
<path d="M360.3,1032.1 L351.5,1032.1 L351.5,1040.6 L360.3,1040.6 M351.5,1036.35 L359.5,1036.35"/>
<path d="M363.5,1041.6 L363.5,1032.1 L373.3,1040.6 L373.3,1031.1"/>
<path d="M387.6,1032.1 L378.2,1032.1 L378.2,1040.6 L387.6,1040.6 M378.2,1036.35 L386.8,1036.35"/>
<path d="M399.6,1032.1 L391.9,1032.1 Q390.0,1032.1 390.0,1034.1 Q390.0,1036.35 392.4,1036.35 L397.1,1036.35 Q399.0,1036.35 399.0,1038.4499999999998 Q399.0,1040.6 396.6,1040.6 L389.4,1040.6"/>
<path d="M400.8,1040.6 L406.2,1032.1 L411.8,1040.6"/>
<path d="M425.0,1032.1 L416.3,1032.1 Q414.40000000000003,1032.1 414.40000000000003,1034.1 Q414.40000000000003,1036.35 416.8,1036.35 L422.5,1036.35 Q424.4,1036.35 424.4,1038.4499999999998 Q424.4,1040.6 422.0,1040.6 L413.8,1040.6"/>
</g>
</svg></body></html>
